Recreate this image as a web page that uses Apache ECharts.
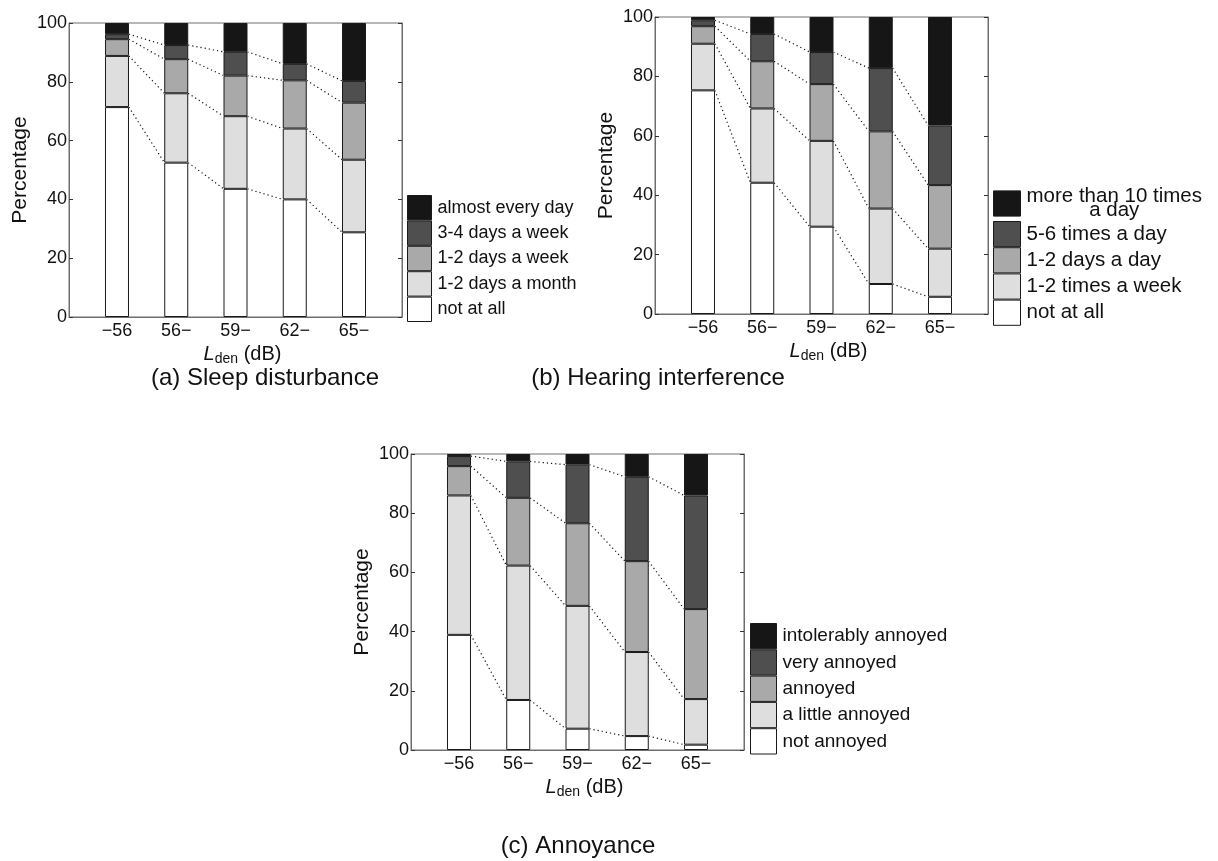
<!DOCTYPE html>
<html>
<head>
<meta charset="utf-8">
<script src="https://cdn.jsdelivr.net/npm/echarts@6/dist/echarts.min.js"></script>
<style>
    html, body { margin: 0; padding: 0; background: #fff; }
    #chart { width: 1218px; height: 861px; }
</style>
</head>
<body>
<div id="chart"></div>
<script>
const categories = ["\u221256", "56\u2212", "59\u2212", "62\u2212", "65\u2212"]

// (a) sleep disturbance, bottom layer first
const sleepNames = ["not at all", "1-2 days a month", "1-2 days a week", "3-4 days a week", "almost every day"]
const sleepNotAtAll = [71.4, 52.5, 43.6, 40.0, 28.8]
const sleepMonth = [17.4, 23.6, 24.7, 24.1, 24.7]
const sleepWeek = [5.7, 11.6, 13.8, 16.4, 19.4]
const sleepWeek34 = [1.7, 4.8, 8.1, 5.6, 7.4]
const sleepEveryDay = [3.8, 7.5, 9.8, 13.9, 19.7]

// (b) hearing interference
const hearNames = ["not at all", "1-2 times a week", "1-2 days a day", "5-6 times a day", "more than 10 times a day"]
const hearNotAtAll = [75.3, 44.2, 29.4, 10.1, 5.8]
const hearWeek = [15.7, 25.0, 28.9, 25.4, 16.2]
const hearDay12 = [5.9, 15.9, 19.1, 26.0, 21.4]
const hearDay56 = [2.0, 9.2, 10.8, 21.3, 20.1]
const hearMore10 = [1.1, 5.7, 11.8, 17.2, 36.5]

// (c) annoyance
const annoyNames = ["not annoyed", "a little annoyed", "annoyed", "very annoyed", "intolerably annoyed"]
const annoyNot = [38.9, 16.9, 7.2, 4.7, 1.8]
const annoyLittle = [47.1, 45.4, 41.5, 28.4, 15.4]
const annoyAnnoyed = [9.9, 22.9, 27.9, 30.7, 30.4]
const annoyVery = [3.4, 12.3, 19.8, 28.5, 38.4]
const annoyIntolerable = [0.7, 2.5, 3.6, 7.7, 14.0]

const greys = ["#ffffff", "#dedede", "#a9a9a9", "#4f4f4f", "#161616"]
const font = "Liberation Sans"
const ink = "#111"
const frame = "#6e6e6e"
const barHalf = 0.2
const xMin = 0.19
const xMax = 5.81

const panels = [
    { box: { left: 69, top: 23, width: 333, height: 294 }, layers: [sleepNotAtAll, sleepMonth, sleepWeek, sleepWeek34, sleepEveryDay], names: sleepNames,
      legend: { left: 407, top: 195, itemWidth: 24, itemHeight: 24.4, fontSize: 18 } },
    { box: { left: 655, top: 17, width: 333, height: 297 }, layers: [hearNotAtAll, hearWeek, hearDay12, hearDay56, hearMore10], names: hearNames,
      legend: { left: 993, top: 186, itemWidth: 27, itemHeight: 25.2, fontSize: 20.5 } },
    { box: { left: 411, top: 454, width: 333, height: 296 }, layers: [annoyNot, annoyLittle, annoyAnnoyed, annoyVery, annoyIntolerable], names: annoyNames,
      legend: { left: 750, top: 623, itemWidth: 26, itemHeight: 25.3, fontSize: 19 } },
]

const grid = []
const xAxis = []
const yAxis = []
const legend = []
const series = []

panels.forEach((p, idx) => {
    const b = p.box
    const unit = b.width / (xMax - xMin)

    // outer grid: frame, ticks, labels and the dotted links
    const outer = grid.length
    grid.push(Object.assign({ show: true, borderColor: frame, borderWidth: 1, backgroundColor: "transparent" }, b))
    // inner grid: one band per category, lined up with the outer value axis
    const inner = grid.length
    grid.push({ left: b.left + (0.5 - xMin) * unit, top: b.top, width: categories.length * unit, height: b.height })

    const ox = xAxis.length
    xAxis.push({
        gridIndex: outer,
        type: "value",
        min: xMin,
        max: xMax,
        axisLine: { show: true, lineStyle: { color: frame } },
        axisTick: { show: false },
        splitLine: { show: false },
        axisLabel: {
            customValues: [1, 2, 3, 4, 5],
            formatter: (v) => categories[Math.round(v) - 1] || "",
            fontFamily: font, fontSize: 18, color: ink, margin: 5,
        },
        name: "{l|L}{s|den}{t| (dB)}",
        nameLocation: "middle",
        nameGap: 25,
        nameTextStyle: {
            padding: [0, 0, 0, 14],
            rich: {
                l: { fontFamily: font, fontStyle: "italic", fontSize: 20, lineHeight: 24, color: ink },
                s: { fontFamily: font, fontSize: 14, lineHeight: 14, verticalAlign: "bottom", color: ink },
                t: { fontFamily: font, fontSize: 20, lineHeight: 24, color: ink },
            },
        },
    })
    const ix = xAxis.length
    xAxis.push({ gridIndex: inner, type: "category", data: categories, boundaryGap: true, show: false })

    const oy = yAxis.length
    yAxis.push({
        gridIndex: outer,
        type: "value",
        min: 0,
        max: 100,
        interval: 20,
        position: "left",
        axisLine: { show: true, lineStyle: { color: frame } },
        axisTick: { show: true, inside: true, length: 4, lineStyle: { color: "#333" } },
        splitLine: { show: false },
        axisLabel: { fontFamily: font, fontSize: 18, color: ink, margin: 2 },
        name: "Percentage",
        nameLocation: "middle",
        nameGap: 38,
        nameTextStyle: { fontFamily: font, fontSize: 21, color: ink },
    })
    yAxis.push({
        gridIndex: outer,
        type: "value",
        min: 0,
        max: 100,
        interval: 20,
        position: "right",
        axisLine: { show: true, lineStyle: { color: frame } },
        axisTick: { show: true, inside: true, length: 4, lineStyle: { color: "#333" } },
        splitLine: { show: false },
        axisLabel: { show: false },
    })
    const iy = yAxis.length
    yAxis.push({ gridIndex: inner, type: "value", min: 0, max: 100, show: false })

    p.layers.forEach((vals, k) => {
        series.push({
            name: p.names[k],
            type: "bar",
            stack: "panel" + idx,
            xAxisIndex: ix,
            yAxisIndex: iy,
            barWidth: 24,
            itemStyle: { color: greys[k], borderColor: "#1a1a1a", borderWidth: 1 },
            data: vals,
        })
    })

    // dotted lines joining the tops of each layer from bar to bar
    let run = categories.map(() => 0)
    for (let k = 0; k < p.layers.length - 1; k++) {
        run = run.map((r, i) => r + p.layers[k][i])
        const pts = []
        for (let i = 0; i < categories.length - 1; i++) {
            pts.push([i + 1 + barHalf, run[i]], [i + 2 - barHalf, run[i + 1]], [i + 1.5, "-"])
        }
        series.push({
            name: "link" + idx + "_" + k,
            type: "line",
            xAxisIndex: ox,
            yAxisIndex: oy,
            symbol: "none",
            silent: true,
            z: 3,
            lineStyle: { color: "#111", width: 1.2, type: [1.2, 3] },
            data: pts,
        })
    }

    const l = p.legend
    legend.push({
        orient: "vertical",
        left: l.left,
        top: l.top,
        itemWidth: l.itemWidth,
        itemHeight: l.itemHeight,
        itemGap: 0,
        padding: 0,
        icon: "rect",
        selectedMode: false,
        data: p.names.slice().reverse(),
        itemStyle: { borderColor: "#1a1a1a", borderWidth: 1 },
        formatter: (name) => name === "more than 10 times a day" ? "{a|more than 10 times}\n{b|a day}" : name,
        textStyle: {
            fontFamily: font, fontSize: l.fontSize, color: ink, padding: [0, 0, 0, 1],
            rich: {
                a: { fontFamily: font, fontSize: l.fontSize, lineHeight: 14, color: ink },
                b: { fontFamily: font, fontSize: l.fontSize, lineHeight: 14, color: ink, align: "center" },
            },
        },
    })
})

const titles = [
    { text: "(a) Sleep disturbance", x: 265, y: 378 },
    { text: "(b) Hearing interference", x: 658, y: 378 },
    { text: "(c) Annoyance", x: 578, y: 846 },
]

const chart = echarts.init(document.getElementById("chart"))
chart.setOption({
    animation: false,
    backgroundColor: "#fff",
    grid: grid,
    xAxis: xAxis,
    yAxis: yAxis,
    legend: legend,
    series: series,
    graphic: titles.map((t) => ({
        type: "text",
        x: t.x,
        y: t.y,
        style: { text: t.text, fontFamily: font, fontSize: 24, fill: ink, align: "center", verticalAlign: "middle" },
    })),
})
</script>
</body>
</html>
